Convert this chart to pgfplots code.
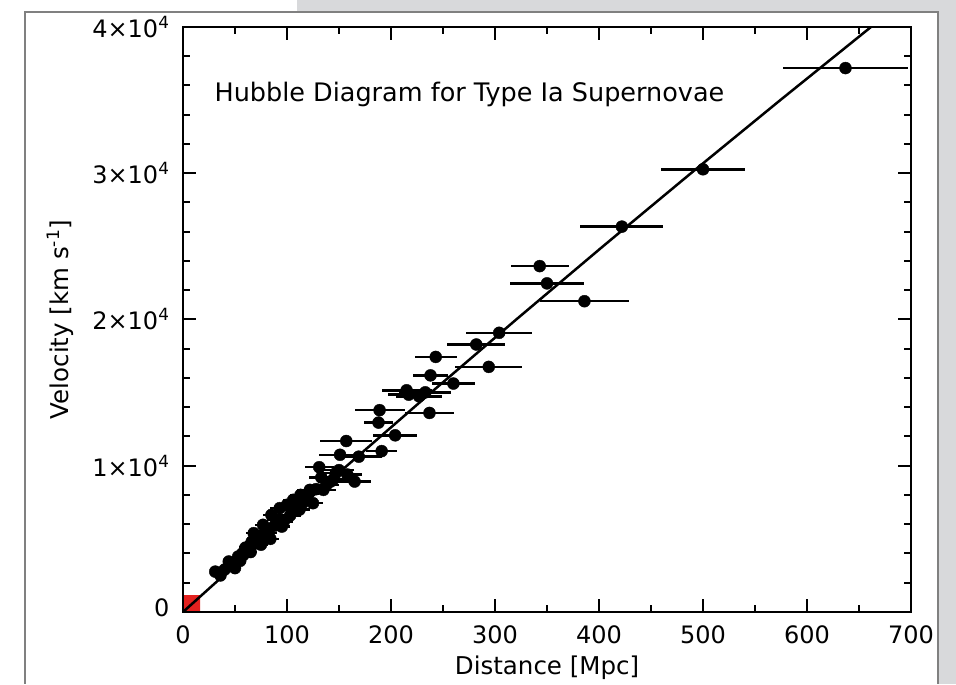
\documentclass[border=0pt]{standalone}
\usepackage{pgfplots}
\pgfplotsset{compat=1.18}
\usepackage{pgfplotstable}
\usepackage{fontspec}
\setmainfont{DejaVu Sans}
\definecolor{bggray}{HTML}{D8D9DB}
\definecolor{framegray}{HTML}{808080}
\definecolor{hubred}{HTML}{E3211F}

\pgfplotstableread{
x y ex
637 37190 60
500 30270 40
422 26350 40
343 23650 28
350 22470 36
386 21250 43
304 19090 32
282 18290 28
243 17440 20
294 16760 32
238 16180 17
260 15620 21
215 15160 24
233 15020 25
227 14750 22
217 14860 20
189 13800 24
237 13610 24
188 12950 14
204 12080 21
157 11690 25
191 11000 15
151 10750 20
169 10620 22
131 9900 14
147 9500 14
165 8920 16
142 8920 12
135 8350 12
122 8350 12
113 8010 10
106 7670 10
100 7330 10
93 7100 9
125 7440 10
115 7440 9
105 6990 9
95 5840 8
85 6640 8
79 5390 8
77 5960 8
68 5390 7
63 4250 6
53 3790 5
44 3450 5
31 2760 4
36 2500 4
40 2900 4
47 3200 5
50 3000 5
55 3500 5
58 3900 6
60 4400 6
65 4100 6
70 4700 7
72 5000 7
75 4600 7
82 5400 8
88 5900 8
90 6300 9
97 6200 9
103 6600 10
108 7300 10
112 7000 10
118 7700 11
120 8100 11
128 8400 12
133 9200 12
138 8700 12
145 9100 13
150 9700 14
158 9400 14
74 5200 7
84 5000 8
66 4800 6
57 4000 5
}\sndata

\begin{document}
\begin{tikzpicture}
\fill[white] (0pt,0pt) rectangle (956pt,684pt);
\fill[bggray] (297pt,0pt) rectangle (956pt,684pt);
\fill[white] (25pt,0pt) rectangle (938pt,672.3pt);
\draw[framegray, line width=2pt] (25pt,0pt) -- (25pt,672.3pt) -- (938pt,672.3pt) -- (938pt,0pt);
\begin{axis}[
  at={(183pt,72pt)}, anchor=south west,
  scale only axis, width=728pt, height=585pt,
  xmin=0, xmax=700, ymin=0, ymax=40000,
  xtick={0,100,...,700}, minor x tick num=1,
  ytick={0,10000,20000,30000,40000}, minor y tick num=4,
  yticklabels={\raisebox{8pt}{0},1×10\textsuperscript{4},2×10\textsuperscript{4},3×10\textsuperscript{4},4×10\textsuperscript{4}},
  scaled y ticks=false,
  /pgf/number format/assume math mode=true,
  tick align=inside, major tick length=13pt, minor tick length=7pt,
  every tick/.style={black, line width=2pt},
  axis line style={line width=2.5pt},
  axis on top,
  ticklabel style={font=\fontsize{24}{28}\selectfont},
  xticklabel style={yshift=-10pt},
  yticklabel style={xshift=-10pt},
  xlabel={Distance [Mpc]}, ylabel={Velocity [km s\textsuperscript{-1}]},
  label style={font=\fontsize{24.5}{28}\selectfont},
  xlabel style={at={(axis description cs:0.5,0)}, anchor=center, yshift=-56pt},
  ylabel style={at={(axis description cs:0,0.5)}, anchor=center, xshift=0pt, yshift=123pt},
]
\addplot[fill=hubred, draw=none] coordinates {(0,0) (16.5,0) (16.5,1150) (0,1150) (0,0)};
\addplot[only marks, mark=*, mark size=6pt, black,
  error bars/.cd, x dir=both, x explicit,
  error bar style={line width=2.5pt}, error mark=none]
  table[x=x, y=y, x error=ex]{\sndata};
\addplot[black, line width=2.5pt] coordinates {
(0,0) (78.17,5000) (157.63,10000) (238.37,15000) (320.42,20000)
(403.76,25000) (488.39,30000) (574.31,35000) (661.53,40000) (696.77,42000)};
\node[anchor=west, font=\fontsize{25.5}{30}\selectfont] at (axis cs:27,35400) {Hubble Diagram for Type Ia Supernovae};
\end{axis}
\end{tikzpicture}
\end{document}
